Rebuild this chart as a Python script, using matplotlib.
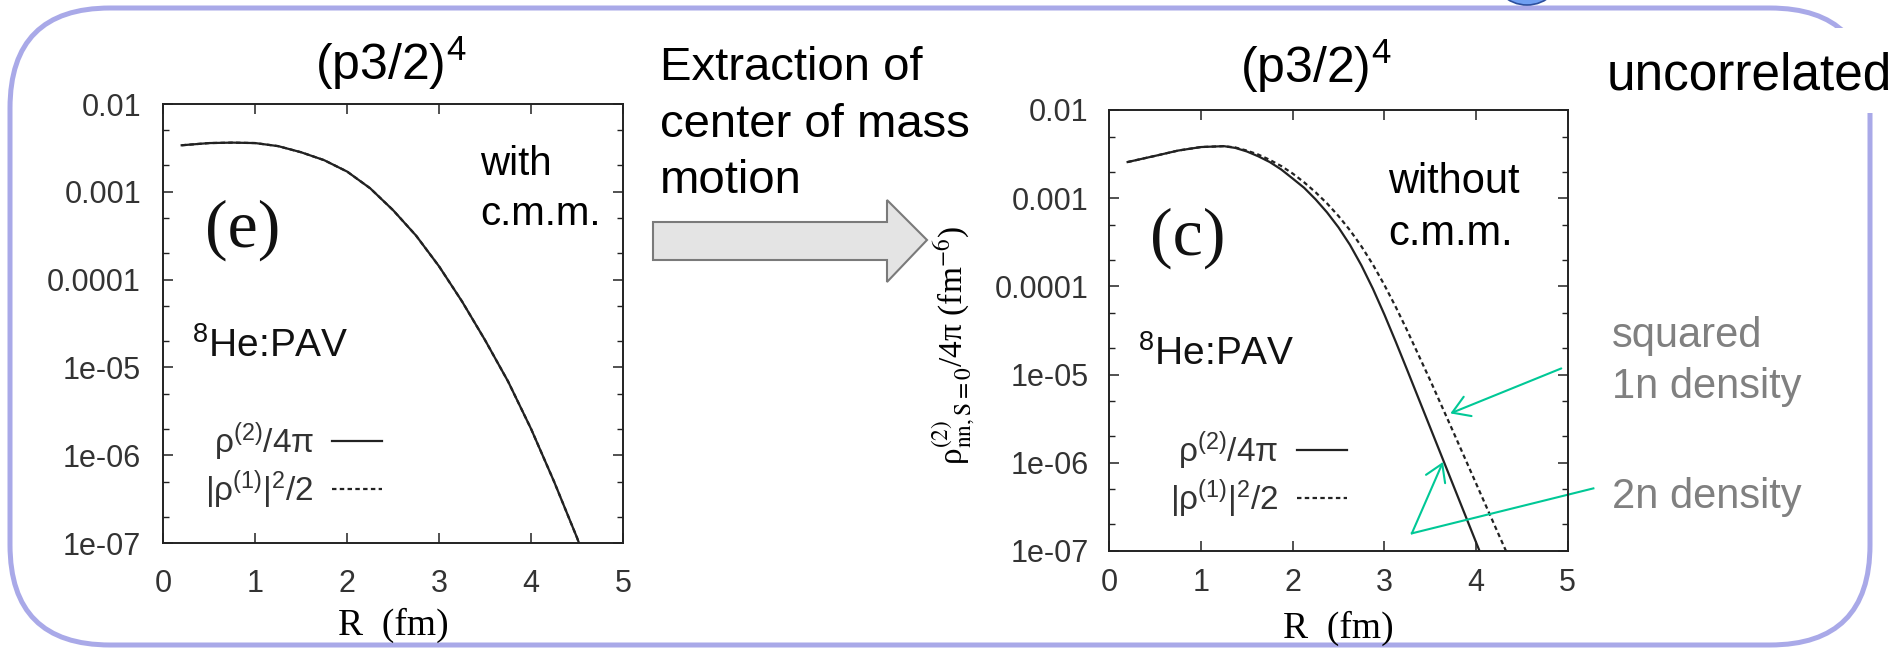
import matplotlib.pyplot as plt
import numpy as np
from matplotlib.patches import FancyBboxPatch, Polygon, Circle, Rectangle
from matplotlib.ticker import FixedLocator, FixedFormatter, LogLocator, NullFormatter

plt.rcParams['font.family'] = ['Liberation Sans', 'DejaVu Sans']
plt.rcParams['mathtext.fontset'] = 'custom'
plt.rcParams['mathtext.rm'] = 'Liberation Sans'
plt.rcParams['mathtext.it'] = 'Liberation Sans:italic'
plt.rcParams['mathtext.bf'] = 'Liberation Sans:bold'

SERIF = ['Liberation Serif', 'DejaVu Serif']

# 8He, (p3/2)^4 configuration: log10 of the pair density vs R (fm)
R_with = [0.2, 0.5, 0.75, 1.0, 1.25, 1.5, 1.75, 2.0, 2.25, 2.5, 2.75, 3.0,
          3.25, 3.5, 3.75, 4.0, 4.25, 4.5, 4.55]
log_with = [-2.47, -2.445, -2.44, -2.445, -2.48, -2.55, -2.64, -2.77, -2.96,
            -3.21, -3.50, -3.85, -4.25, -4.69, -5.16, -5.70, -6.30, -6.94, -7.08]

R_wo = [0.2, 0.5, 0.75, 1.0, 1.25, 1.375, 1.5, 1.625, 1.75, 1.875, 2.0, 2.125,
        2.25, 2.375, 2.5, 2.625, 2.75, 2.875, 3.0, 3.125, 3.25, 3.5, 3.75, 4.0, 4.1]
log_wo_2n = [-2.59, -2.52, -2.46, -2.42, -2.41, -2.43, -2.47, -2.525, -2.59, -2.674,
             -2.777, -2.882, -3.013, -3.161, -3.331, -3.529, -3.762, -4.026, -4.318,
             -4.629, -4.950, -5.60, -6.25, -6.90, -7.16]

R_wo_sq = [0.2, 0.5, 0.75, 1.0, 1.25, 1.375, 1.5, 1.625, 1.75, 1.875, 2.0, 2.125,
           2.25, 2.375, 2.5, 2.625, 2.75, 2.875, 3.0, 3.125, 3.25, 3.5, 3.75, 4.0,
           4.25, 4.4]
log_wo_sq = [-2.59, -2.52, -2.46, -2.42, -2.41, -2.425, -2.46, -2.505, -2.565, -2.635,
             -2.72, -2.82, -2.933, -3.059, -3.202, -3.363, -3.546, -3.752, -3.983,
             -4.234, -4.502, -5.064, -5.645, -6.233, -6.82, -7.17]

x_ticks = [0, 1, 2, 3, 4, 5]
y_ticks = [1e-7, 1e-6, 1e-5, 1e-4, 1e-3, 1e-2]
y_tick_labels = ['1e-07', '1e-06', '1e-05', '0.0001', '0.001', '0.01']

lab_2n = 'ρ$^{(2)}$/4π'
lab_sq = '|ρ$^{(1)}$|$^2$/2'

W, H = 1901, 648
fig = plt.figure(figsize=(W / 100, H / 100), dpi=100)


def box(l, t, r, b):
    return [l / W, 1 - b / H, (r - l) / W, (b - t) / H]


# slide background, pixel coordinates
bg = fig.add_axes([0, 0, 1, 1])
bg.set_xlim(0, W)
bg.set_ylim(H, 0)
bg.axis('off')

bg.add_patch(FancyBboxPatch((10, 8), 1860, 637, boxstyle='round,pad=0,rounding_size=100',
                            fc='none', ec='#a9a9e8', lw=3.6, zorder=2))
bg.add_patch(Circle((1527, -31), 36, fc='#6f9ff2', ec='#2c4f9e', lw=1.2, zorder=4))
bg.add_patch(Rectangle((1595, 28), 306, 85, fc='white', ec='none', zorder=3))
bg.text(1607, 90, 'uncorrelated', fontsize=37, color='black', zorder=5)

bg.add_patch(Polygon([(653, 222), (887, 222), (887, 200), (927, 240), (887, 282),
                      (887, 260), (653, 260)], closed=True, fc='#e4e4e4', ec='#7a7a7a', lw=1.5))
bg.text(660, 80, 'Extraction of', fontsize=34)
bg.text(660, 137, 'center of mass', fontsize=34)
bg.text(660, 193, 'motion', fontsize=34)

bg.text(391, 80, '(p3/2)$^4$', fontsize=36, ha='center')
bg.text(1316, 83, '(p3/2)$^4$', fontsize=36, ha='center')

bg.text(480, 175, 'with', fontsize=29)
bg.text(480, 225, 'c.m.m.', fontsize=29)
bg.text(1388, 193, 'without', fontsize=30)
bg.text(1388, 245, 'c.m.m.', fontsize=30)

bg.text(1612, 347, 'squared', fontsize=30, color='#808080')
bg.text(1612, 398, '1n density', fontsize=30, color='#808080')
bg.text(1612, 508, '2n density', fontsize=30, color='#808080')

bg.text(243, 230, '(e)', fontsize=49, family=SERIF, ha='center', va='center', color='#111111')
bg.text(1188, 238, '(c)', fontsize=49, family=SERIF, ha='center', va='center', color='#111111')
bg.text(192, 357, '$^8$He:PAV', fontsize=28, color='#111111')
bg.text(1138, 365, '$^8$He:PAV', fontsize=28, color='#111111')

# y-axis title of the right panel
bg.text(954, 345, 'ρ$^{(2)}_{\\mathrm{nn,S=0}}$/4π (fm$^{-6}$)', fontsize=24, family=SERIF,
        math_fontfamily='stix', rotation=90, ha='center', va='center')

axL = fig.add_axes(box(163.3, 104, 623, 543))
axR = fig.add_axes(box(1109.3, 110, 1567.7, 551))

ink = '#222222'
for ax in (axL, axR):
    ax.set_facecolor('none')
    ax.set_yscale('log')
    ax.set_xlim(0, 5)
    ax.set_ylim(1e-7, 1e-2)
    ax.xaxis.set_major_locator(FixedLocator(x_ticks))
    ax.yaxis.set_major_locator(FixedLocator(y_ticks))
    ax.yaxis.set_major_formatter(FixedFormatter(y_tick_labels))
    ax.yaxis.set_minor_locator(LogLocator(base=10, subs=(2.0, 5.0)))
    ax.yaxis.set_minor_formatter(NullFormatter())
    ax.tick_params(which='major', direction='in', length=7, width=1.1, color=ink,
                   top=True, right=True, labelsize=22, labelcolor='#333333')
    ax.tick_params(which='minor', direction='in', length=4.5, width=1.0, color=ink,
                   left=True, right=True)
    for s in ax.spines.values():
        s.set_linewidth(1.4)
        s.set_color(ink)

axL.tick_params(axis='x', pad=19)
axL.tick_params(axis='y', pad=16)
axR.tick_params(axis='x', pad=12)
axR.tick_params(axis='y', pad=15)

# with centre-of-mass motion: both densities coincide
yw = 10 ** np.array(log_with)
axL.plot(R_with, yw, color=ink, lw=1.6, label=lab_2n)
axL.plot(R_with, yw, color=ink, lw=1.6, ls=(0, (2.0, 1.5)), label=lab_sq)

# without centre-of-mass motion
axR.plot(R_wo, 10 ** np.array(log_wo_2n), color=ink, lw=1.6, label=lab_2n)
axR.plot(R_wo_sq, 10 ** np.array(log_wo_sq), color=ink, lw=1.6, ls=(0, (2.0, 1.5)), label=lab_sq)

legend_kw = dict(loc='lower right', markerfirst=False, frameon=False, fontsize=24,
                 handlelength=1.5, handletextpad=0.55, labelspacing=0.15,
                 borderpad=0, borderaxespad=0, labelcolor='#333333')
axL.legend(bbox_to_anchor=(0.476, 0.073), **legend_kw)
axR.legend(bbox_to_anchor=(0.5185, 0.070), **legend_kw)

axL.set_xlabel('R  (fm)', fontsize=27, family=SERIF)
axL.xaxis.set_label_coords(0.5, -0.187)
axL.xaxis.label.set_va('center')
axR.set_xlabel('R  (fm)', fontsize=27, family=SERIF)
axR.xaxis.set_label_coords(0.5, -0.175)
axR.xaxis.label.set_va('center')

# pointers to the two curves
green = '#00c896'
arrow = dict(arrowstyle='->,head_length=0.4,head_width=0.25', color=green, lw=1.5,
             mutation_scale=30, shrinkA=0, shrinkB=0)
axR.annotate('', xy=(3.72, 10 ** -5.44), xytext=(4.93, 10 ** -4.93),
             arrowprops=arrow, annotation_clip=False)
axR.plot([5.28, 3.30], [10 ** -6.29, 10 ** -6.80], color=green, lw=1.5, clip_on=False)
axR.annotate('', xy=(3.64, 10 ** -5.99), xytext=(3.30, 10 ** -6.80),
             arrowprops=arrow, annotation_clip=False)

fig.savefig('out.png', dpi=100)
